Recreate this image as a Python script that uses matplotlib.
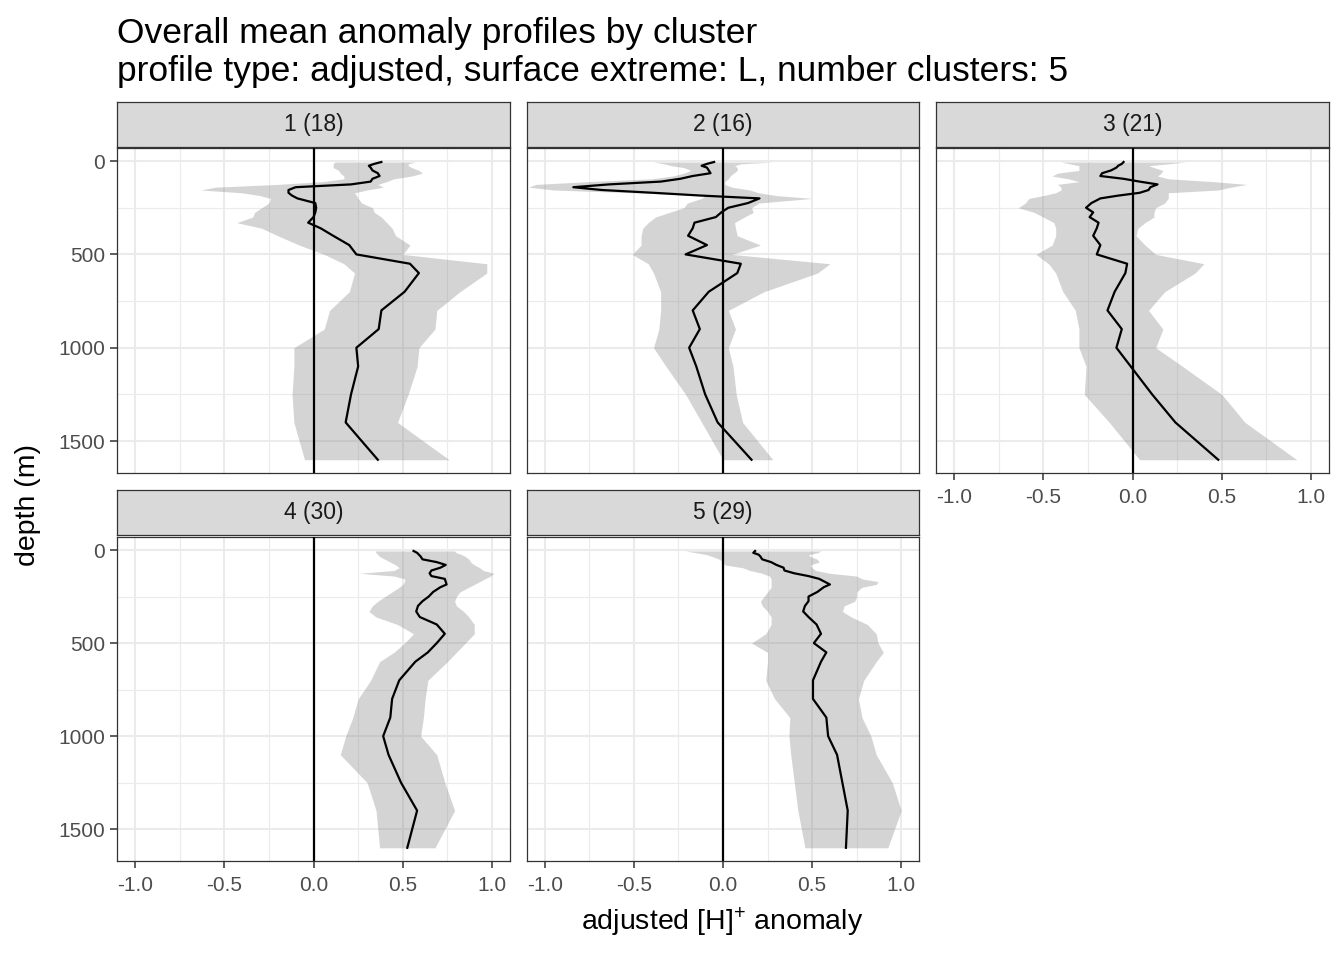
import numpy as np
import matplotlib
matplotlib.use("Agg")
import matplotlib.pyplot as plt
from matplotlib.ticker import FixedLocator

plt.rcParams["font.family"] = ["Liberation Sans", "DejaVu Sans"]
plt.rcParams["mathtext.fontset"] = "custom"
plt.rcParams["mathtext.rm"] = "Liberation Sans"
plt.rcParams["mathtext.it"] = "Liberation Sans"

# ── data ─────────────────────────────────────────────────────────────────────
depth = [5, 15, 25, 35, 50, 65, 80, 95, 110, 125, 140, 155, 170, 185, 200,
         225, 250, 275, 300, 330, 360, 400, 450, 500, 550, 600, 700, 800,
         900, 1000, 1100, 1250, 1400, 1600]

cluster_labels = ["1 (18)", "2 (16)", "3 (21)", "4 (30)", "5 (29)"]

mean_1 = [0.38, 0.34, 0.31, 0.32, 0.33, 0.36, 0.37, 0.33, 0.32, 0.21, -0.10,
          -0.14, -0.14, -0.12, -0.09, 0.01, 0.015, 0.01, 0.0, -0.03, 0.04,
          0.11, 0.20, 0.24, 0.54, 0.59, 0.51, 0.38, 0.365, 0.24, 0.25, 0.21,
          0.18, 0.36]
lower_1 = [0.12, 0.11, 0.11, 0.11, 0.14, 0.15, 0.17, 0.17, 0.05, -0.20, -0.55,
           -0.63, -0.40, -0.30, -0.24, -0.25, -0.29, -0.33, -0.34, -0.43,
           -0.29, -0.20, -0.08, 0.06, 0.17, 0.23, 0.20, 0.09, 0.06, -0.11,
           -0.11, -0.12, -0.11, -0.05]
upper_1 = [0.57, 0.53, 0.53, 0.55, 0.59, 0.61, 0.55, 0.45, 0.41, 0.36, 0.39,
           0.30, 0.23, 0.24, 0.25, 0.27, 0.33, 0.34, 0.38, 0.41, 0.44, 0.46,
           0.54, 0.50, 0.97, 0.97, 0.82, 0.69, 0.68, 0.59, 0.58, 0.53, 0.47,
           0.76]

mean_2 = [-0.05, -0.09, -0.12, -0.09, -0.08, -0.07, -0.17, -0.24, -0.35,
          -0.64, -0.84, -0.68, -0.39, -0.12, 0.205, 0.14, 0.03, -0.01, -0.04,
          -0.16, -0.17, -0.196, -0.09, -0.21, 0.10, 0.08, -0.08, -0.17, -0.13,
          -0.19, -0.15, -0.10, -0.03, 0.16]
lower_2 = [-0.39, -0.33, -0.29, -0.22, -0.18, -0.22, -0.28, -0.40, -0.75,
           -1.05, -1.09, -0.95, -0.50, -0.10, -0.12, -0.20, -0.22, -0.30,
           -0.38, -0.42, -0.45, -0.46, -0.46, -0.51, -0.42, -0.39, -0.35,
           -0.35, -0.36, -0.39, -0.32, -0.21, -0.12, 0.0]
upper_2 = [0.28, 0.10, 0.065, 0.08, 0.08, 0.06, 0.04, 0.03, 0.01, 0.01, 0.05,
           0.15, 0.20, 0.30, 0.50, 0.20, 0.16, 0.17, 0.12, 0.065, 0.07, 0.08,
           0.21, 0.05, 0.60, 0.53, 0.23, 0.03, 0.07, 0.03, 0.056, 0.074, 0.11,
           0.28]

mean_3 = [-0.05, -0.06, -0.08, -0.09, -0.12, -0.17, -0.18, -0.05, 0.04, 0.14,
          0.10, 0.09, 0.04, -0.08, -0.18, -0.23, -0.26, -0.22, -0.24, -0.19,
          -0.20, -0.22, -0.18, -0.20, -0.03, -0.04, -0.10, -0.14, -0.06,
          -0.09, -0.01, 0.11, 0.24, 0.48]
lower_3 = [-0.40, -0.35, -0.30, -0.30, -0.30, -0.42, -0.45, -0.36, -0.30,
           -0.42, -0.40, -0.40, -0.43, -0.50, -0.58, -0.60, -0.64, -0.55,
           -0.50, -0.44, -0.43, -0.43, -0.45, -0.54, -0.47, -0.43, -0.39,
           -0.32, -0.30, -0.30, -0.26, -0.27, -0.13, 0.04]
upper_3 = [0.30, 0.20, 0.09, 0.12, 0.17, 0.16, 0.14, 0.20, 0.45, 0.64, 0.55,
           0.48, 0.20, 0.20, 0.20, 0.18, 0.13, 0.12, 0.12, 0.07, 0.03, 0.02,
           0.07, 0.13, 0.40, 0.35, 0.18, 0.09, 0.17, 0.13, 0.28, 0.50, 0.63,
           0.92]

mean_4 = [0.56, 0.58, 0.59, 0.60, 0.61, 0.69, 0.74, 0.71, 0.66, 0.65, 0.66,
          0.735, 0.74, 0.745, 0.71, 0.67, 0.645, 0.61, 0.585, 0.575, 0.595,
          0.69, 0.735, 0.69, 0.64, 0.57, 0.48, 0.44, 0.43, 0.39, 0.42, 0.49,
          0.58, 0.525]
lower_4 = [0.345, 0.35, 0.36, 0.37, 0.40, 0.43, 0.46, 0.48, 0.45, 0.26, 0.45,
           0.51, 0.51, 0.50, 0.48, 0.44, 0.40, 0.36, 0.33, 0.31, 0.35, 0.47,
           0.56, 0.51, 0.45, 0.37, 0.32, 0.25, 0.22, 0.18, 0.15, 0.30, 0.35,
           0.37]
upper_4 = [0.79, 0.80, 0.83, 0.85, 0.87, 0.88, 0.90, 0.93, 0.95, 1.01, 0.99,
           0.96, 0.93, 0.90, 0.87, 0.82, 0.80, 0.79, 0.80, 0.84, 0.87, 0.90,
           0.90, 0.85, 0.80, 0.75, 0.64, 0.625, 0.615, 0.60, 0.69, 0.735,
           0.79, 0.68]

mean_5 = [0.18, 0.17, 0.20, 0.21, 0.22, 0.27, 0.30, 0.34, 0.345, 0.40, 0.48,
          0.54, 0.57, 0.60, 0.565, 0.53, 0.48, 0.48, 0.46, 0.45, 0.48, 0.525,
          0.55, 0.51, 0.58, 0.55, 0.505, 0.505, 0.58, 0.59, 0.64, 0.67, 0.70,
          0.69]
lower_5 = [-0.21, -0.15, -0.09, -0.06, -0.02, 0.0, 0.01, 0.11, 0.15, 0.22,
           0.26, 0.27, 0.27, 0.27, 0.27, 0.25, 0.23, 0.21, 0.22, 0.25, 0.27,
           0.27, 0.24, 0.16, 0.25, 0.25, 0.24, 0.29, 0.375, 0.37, 0.38, 0.40,
           0.42, 0.46]
upper_5 = [0.55, 0.53, 0.48, 0.49, 0.53, 0.54, 0.49, 0.50, 0.52, 0.60, 0.75,
           0.78, 0.87, 0.86, 0.78, 0.75, 0.75, 0.74, 0.68, 0.67, 0.72, 0.81,
           0.86, 0.87, 0.90, 0.86, 0.79, 0.76, 0.78, 0.83, 0.86, 0.95, 1.00,
           0.925]

means = [mean_1, mean_2, mean_3, mean_4, mean_5]
lowers = [lower_1, lower_2, lower_3, lower_4, lower_5]
uppers = [upper_1, upper_2, upper_3, upper_4, upper_5]

# ── layout (pixel boxes of the reference) ────────────────────────────────────
W, H = 1344, 960
COLS = [(117, 510), (527, 919), (936, 1329)]
ROWS = [((102, 147), (148, 473)), ((490, 535), (537, 861))]
GRID_COL = "#EBEBEB"
EDGE_COL = "#333333"
TICK_COL = "#4D4D4D"


def box(x0, x1, y0, y1):
    return [x0 / W, 1 - y1 / H, (x1 - x0) / W, (y1 - y0) / H]


fig = plt.figure(figsize=(W / 100, H / 100), dpi=100)

for i in range(5):
    r, c = divmod(i, 3)
    (sy0, sy1), (py0, py1) = ROWS[r]
    x0, x1 = COLS[c]

    ax = fig.add_axes(box(x0, x1, py0, py1))
    ax.fill_betweenx(depth, lowers[i], uppers[i], color="#7f7f7f", alpha=0.33,
                     linewidth=0, zorder=2)
    ax.axvline(0, color="black", lw=1.6, zorder=3)
    ax.plot(means[i], depth, color="black", lw=1.6, zorder=4)

    ax.set_xlim(-1.1, 1.1)
    ax.set_ylim(1671, -70)
    ax.xaxis.set_major_locator(FixedLocator([-1.0, -0.5, 0.0, 0.5, 1.0]))
    ax.xaxis.set_minor_locator(FixedLocator([-0.75, -0.25, 0.25, 0.75]))
    ax.yaxis.set_major_locator(FixedLocator([0, 500, 1000, 1500]))
    ax.yaxis.set_minor_locator(FixedLocator([250, 750, 1250]))
    ax.grid(which="major", color=GRID_COL, lw=1.5, zorder=0)
    ax.grid(which="minor", color=GRID_COL, lw=0.8, zorder=0)
    ax.set_axisbelow(True)
    for sp in ax.spines.values():
        sp.set_color(EDGE_COL)
        sp.set_linewidth(0.9)
    ax.tick_params(which="major", length=5, width=1.1, color=EDGE_COL,
                   labelcolor=TICK_COL, labelsize=15, pad=3.5)
    ax.tick_params(axis="x", which="major", pad=6)
    ax.tick_params(which="minor", length=0)

    show_x = (r == 1) or (c == 2)
    if show_x:
        ax.set_xticklabels(["-1.0", "-0.5", "0.0", "0.5", "1.0"])
    else:
        ax.tick_params(axis="x", which="major", length=0, labelbottom=False)
    if c == 0:
        ax.set_yticklabels(["0", "500", "1000", "1500"])
    else:
        ax.tick_params(axis="y", which="major", length=0, labelleft=False)

    sx = fig.add_axes(box(x0, x1, sy0, sy1))
    sx.set_facecolor("#D9D9D9")
    sx.set_xticks([])
    sx.set_yticks([])
    for sp in sx.spines.values():
        sp.set_color(EDGE_COL)
        sp.set_linewidth(0.9)
    sx.text(0.5, 0.5, cluster_labels[i], ha="center", va="center",
            fontsize=16.5, color="#1A1A1A", transform=sx.transAxes)

fig.text(117 / W, 1 - 33 / H, "Overall mean anomaly profiles by cluster",
         fontsize=25.5, ha="left", va="center")
fig.text(117 / W, 1 - 71 / H,
         "profile type: adjusted, surface extreme: L, number clusters: 5",
         fontsize=25.5, ha="left", va="center")
fig.text(722 / W, 1 - 922 / H, "adjusted [H]$^{+}$ anomaly", fontsize=20.5,
         ha="center", va="center")
fig.text(28 / W, 1 - 505 / H, "depth (m)", fontsize=20.5, rotation=90,
         ha="center", va="center")

fig.savefig("out.png", dpi=100)
